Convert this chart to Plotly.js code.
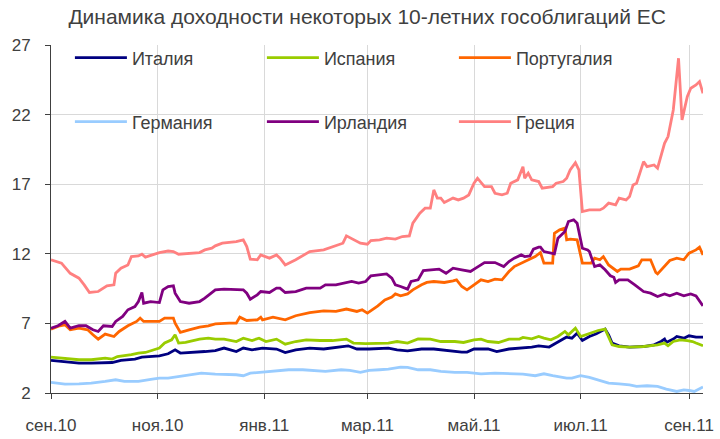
<!DOCTYPE html>
<html><head><meta charset="utf-8">
<script src="https://cdn.plot.ly/plotly-3.0.1.min.js"></script>
<style>html,body{margin:0;padding:0;background:#fff}#chart{width:720px;height:439px}</style>
</head><body><div id="chart"></div>
<script>
const titleText = 'Динамика доходности некоторых 10-летних гособлигаций ЕС';
const tickDates = ['2010-09-01','2010-11-01','2011-01-01','2011-03-01','2011-05-01','2011-07-01','2011-09-01'];
const tickLabels = ['сен.10','ноя.10','янв.11','мар.11','май.11','июл.11','сен.11'];
const yTicks = [2, 7, 12, 17, 22, 27];

const seriesNames = ['Италия','Испания','Португалия','Германия','Ирландия','Греция'];
const seriesColors = ['#000080','#99CC00','#FF6600','#99CCFF','#800080','#FF8080'];

const italyDates = ['2010-09-01','2010-09-09','2010-09-17','2010-09-24','2010-10-02','2010-10-06','2010-10-11','2010-10-19','2010-10-23','2010-10-29','2010-11-02','2010-11-07','2010-11-11','2010-11-14','2010-11-21','2010-11-28','2010-12-04','2010-12-09','2010-12-16','2010-12-20','2010-12-25','2010-12-31','2011-01-08','2011-01-13','2011-01-19','2011-01-27','2011-02-04','2011-02-11','2011-02-18','2011-02-23','2011-03-02','2011-03-13','2011-03-18','2011-03-24','2011-04-01','2011-04-08','2011-04-16','2011-04-24','2011-04-27','2011-05-01','2011-05-09','2011-05-14','2011-05-21','2011-05-29','2011-06-03','2011-06-07','2011-06-10','2011-06-13','2011-06-17','2011-06-23','2011-06-26','2011-06-29','2011-07-02','2011-07-06','2011-07-10','2011-07-15','2011-07-17','2011-07-19','2011-07-23','2011-07-29','2011-08-06','2011-08-12','2011-08-16','2011-08-18','2011-08-19','2011-08-23','2011-08-25','2011-08-29','2011-09-01','2011-09-05','2011-09-09'];
const italyValues = [4.34,4.27,4.15,4.15,4.19,4.19,4.34,4.44,4.58,4.62,4.67,4.82,5.10,4.87,4.91,4.98,5.05,5.23,4.98,5.23,5.10,5.23,5.16,4.91,5.10,5.23,5.16,5.30,5.39,5.16,5.16,5.23,5.10,5.03,5.16,5.16,5.03,4.94,4.94,5.16,5.16,4.98,5.16,5.23,5.30,5.39,5.34,5.30,5.59,6.02,5.94,6.30,5.77,6.06,6.25,6.59,6.18,5.59,5.39,5.30,5.34,5.46,5.70,5.87,5.63,5.87,6.06,5.94,6.11,6.02,6.02];

const spainDates = ['2010-09-01','2010-09-09','2010-09-17','2010-09-24','2010-10-02','2010-10-06','2010-10-09','2010-10-17','2010-10-21','2010-10-25','2010-10-30','2010-11-02','2010-11-05','2010-11-09','2010-11-11','2010-11-13','2010-11-17','2010-11-21','2010-11-25','2010-11-30','2010-12-04','2010-12-09','2010-12-16','2010-12-20','2010-12-25','2010-12-29','2011-01-02','2011-01-08','2011-01-13','2011-01-19','2011-01-25','2011-02-02','2011-02-09','2011-02-17','2011-02-21','2011-02-28','2011-03-08','2011-03-13','2011-03-18','2011-03-24','2011-03-30','2011-04-06','2011-04-12','2011-04-20','2011-04-25','2011-05-01','2011-05-05','2011-05-09','2011-05-15','2011-05-21','2011-05-27','2011-05-29','2011-06-03','2011-06-07','2011-06-10','2011-06-14','2011-06-18','2011-06-22','2011-06-24','2011-06-28','2011-07-01','2011-07-04','2011-07-07','2011-07-11','2011-07-15','2011-07-17','2011-07-19','2011-07-23','2011-07-29','2011-08-06','2011-08-10','2011-08-14','2011-08-18','2011-08-20','2011-08-23','2011-08-27','2011-08-31','2011-09-03','2011-09-05','2011-09-09'];
const spainValues = [4.58,4.51,4.39,4.39,4.51,4.44,4.62,4.75,4.87,4.91,5.10,5.23,5.59,5.82,6.18,5.59,5.63,5.77,5.87,5.94,5.87,5.87,5.70,5.94,5.77,5.94,5.70,5.87,5.51,5.70,5.82,5.77,5.77,5.87,5.59,5.54,5.54,5.59,5.70,5.59,5.89,5.87,5.70,5.70,5.63,5.82,5.87,5.70,5.63,5.87,5.87,5.99,5.89,6.06,5.94,5.82,6.06,6.42,6.18,6.66,6.06,6.18,6.35,6.49,6.59,6.06,5.46,5.34,5.30,5.34,5.39,5.46,5.59,5.39,5.70,5.82,5.77,5.70,5.59,5.39];

const portugalDates = ['2010-09-01','2010-09-06','2010-09-09','2010-09-12','2010-09-17','2010-09-22','2010-09-25','2010-09-28','2010-10-02','2010-10-07','2010-10-10','2010-10-15','2010-10-20','2010-10-22','2010-10-24','2010-10-29','2010-11-02','2010-11-05','2010-11-10','2010-11-11','2010-11-14','2010-11-19','2010-11-25','2010-11-30','2010-12-04','2010-12-12','2010-12-16','2010-12-18','2010-12-22','2010-12-28','2010-12-30','2010-12-31','2011-01-06','2011-01-13','2011-01-19','2011-01-27','2011-02-04','2011-02-11','2011-02-17','2011-02-23','2011-02-26','2011-03-01','2011-03-04','2011-03-07','2011-03-11','2011-03-15','2011-03-17','2011-03-20','2011-03-24','2011-03-27','2011-04-01','2011-04-04','2011-04-08','2011-04-14','2011-04-19','2011-04-21','2011-04-24','2011-04-27','2011-05-01','2011-05-05','2011-05-09','2011-05-13','2011-05-17','2011-05-21','2011-05-24','2011-05-29','2011-06-01','2011-06-05','2011-06-08','2011-06-10','2011-06-15','2011-06-16','2011-06-19','2011-06-22','2011-06-23','2011-06-25','2011-06-29','2011-07-01','2011-07-02','2011-07-07','2011-07-09','2011-07-12','2011-07-14','2011-07-17','2011-07-22','2011-07-24','2011-07-29','2011-08-03','2011-08-05','2011-08-10','2011-08-13','2011-08-14','2011-08-18','2011-08-21','2011-08-25','2011-08-29','2011-09-01','2011-09-05','2011-09-07','2011-09-09'];
const portugalValues = [6.59,6.83,6.90,6.54,6.66,6.54,6.18,5.87,6.23,6.06,6.42,6.83,7.14,7.38,7.14,7.14,7.14,7.38,7.38,7.02,6.35,6.54,6.73,6.83,6.97,7.02,7.02,7.45,7.21,7.26,7.45,7.26,7.45,7.26,7.55,7.78,7.90,7.86,8.03,7.86,7.98,7.74,7.98,8.26,8.69,8.89,9.12,8.98,9.12,9.41,9.77,9.94,10.01,9.94,10.06,10.13,9.65,9.41,9.77,10.13,10.01,10.18,10.13,10.73,11.08,11.37,11.57,11.80,12.09,11.33,11.33,13.48,13.72,13.84,13.00,13.05,13.00,11.80,11.33,11.33,11.69,11.57,11.80,11.20,10.73,10.90,10.90,11.13,11.57,11.57,10.66,10.56,11.13,11.52,11.69,11.57,12.04,12.28,12.48,11.92];

const germanyDates = ['2010-09-01','2010-09-09','2010-09-17','2010-09-24','2010-10-02','2010-10-08','2010-10-13','2010-10-21','2010-10-29','2010-11-02','2010-11-07','2010-11-13','2010-11-21','2010-11-26','2010-12-04','2010-12-09','2010-12-16','2010-12-20','2010-12-24','2010-12-31','2011-01-08','2011-01-15','2011-01-23','2011-01-31','2011-02-05','2011-02-14','2011-02-19','2011-02-25','2011-03-02','2011-03-08','2011-03-13','2011-03-20','2011-03-24','2011-03-30','2011-04-06','2011-04-12','2011-04-20','2011-04-27','2011-05-05','2011-05-13','2011-05-21','2011-05-29','2011-06-05','2011-06-10','2011-06-15','2011-06-23','2011-06-26','2011-07-01','2011-07-06','2011-07-12','2011-07-17','2011-07-23','2011-07-29','2011-08-02','2011-08-08','2011-08-14','2011-08-19','2011-08-25','2011-08-29','2011-09-01','2011-09-04','2011-09-09'];
const germanyValues = [2.76,2.64,2.66,2.71,2.83,2.95,2.83,2.83,3.00,3.07,3.07,3.19,3.31,3.43,3.36,3.36,3.31,3.24,3.43,3.50,3.60,3.67,3.67,3.62,3.55,3.67,3.62,3.48,3.62,3.67,3.72,3.86,3.84,3.67,3.67,3.55,3.48,3.48,3.38,3.43,3.38,3.36,3.24,3.38,3.24,3.07,3.07,3.24,3.12,2.90,2.71,2.66,2.59,2.47,2.52,2.47,2.28,2.11,2.23,2.18,2.11,2.43];

const irelandDates = ['2010-09-01','2010-09-05','2010-09-09','2010-09-12','2010-09-17','2010-09-21','2010-09-25','2010-09-28','2010-10-01','2010-10-06','2010-10-08','2010-10-12','2010-10-15','2010-10-19','2010-10-21','2010-10-23','2010-10-24','2010-10-28','2010-11-02','2010-11-04','2010-11-07','2010-11-10','2010-11-11','2010-11-14','2010-11-19','2010-11-25','2010-11-28','2010-12-02','2010-12-04','2010-12-09','2010-12-16','2010-12-20','2010-12-22','2010-12-24','2010-12-28','2010-12-30','2011-01-04','2011-01-08','2011-01-10','2011-01-13','2011-01-19','2011-01-25','2011-02-02','2011-02-05','2011-02-11','2011-02-17','2011-02-20','2011-02-24','2011-02-28','2011-03-03','2011-03-07','2011-03-12','2011-03-15','2011-03-17','2011-03-20','2011-03-24','2011-03-26','2011-03-30','2011-04-02','2011-04-08','2011-04-11','2011-04-15','2011-04-19','2011-04-24','2011-04-29','2011-05-02','2011-05-07','2011-05-13','2011-05-18','2011-05-21','2011-05-24','2011-05-28','2011-05-30','2011-06-02','2011-06-04','2011-06-07','2011-06-08','2011-06-10','2011-06-16','2011-06-18','2011-06-22','2011-06-24','2011-06-27','2011-06-29','2011-07-02','2011-07-05','2011-07-06','2011-07-09','2011-07-12','2011-07-15','2011-07-18','2011-07-20','2011-07-21','2011-07-23','2011-07-28','2011-08-01','2011-08-06','2011-08-10','2011-08-14','2011-08-18','2011-08-21','2011-08-25','2011-08-29','2011-09-02','2011-09-05','2011-09-09'];
const irelandValues = [6.66,6.83,7.14,6.66,6.83,6.83,6.54,6.42,6.83,6.78,7.14,7.50,7.98,8.21,8.57,9.22,8.45,8.57,8.50,9.41,9.65,9.70,9.17,8.57,8.45,8.57,8.81,9.22,9.41,9.46,9.41,9.41,9.17,8.74,9.05,9.29,9.22,9.53,9.53,9.22,9.29,9.53,9.53,9.77,9.77,9.94,10.01,9.89,10.01,10.42,10.49,10.56,10.25,9.77,9.65,9.46,10.01,10.13,10.80,10.85,10.90,10.60,10.97,10.85,10.73,10.97,11.37,11.37,11.08,11.44,11.69,11.92,11.80,11.85,12.33,12.48,12.48,12.16,12.00,13.12,13.60,14.32,14.44,14.20,12.40,12.28,12.16,11.08,11.20,10.85,10.42,10.32,9.94,10.13,10.13,9.77,9.29,9.17,8.93,9.12,8.98,9.17,8.98,9.12,8.98,8.26];

const greeceDates = ['2010-09-01','2010-09-07','2010-09-12','2010-09-17','2010-09-20','2010-09-23','2010-09-28','2010-10-03','2010-10-07','2010-10-08','2010-10-11','2010-10-15','2010-10-17','2010-10-21','2010-10-23','2010-10-25','2010-10-29','2010-11-02','2010-11-07','2010-11-10','2010-11-13','2010-11-19','2010-11-25','2010-11-28','2010-12-02','2010-12-04','2010-12-08','2010-12-16','2010-12-20','2010-12-22','2010-12-24','2010-12-28','2010-12-30','2011-01-04','2011-01-08','2011-01-10','2011-01-13','2011-01-19','2011-01-27','2011-02-04','2011-02-11','2011-02-15','2011-02-17','2011-02-21','2011-02-25','2011-03-01','2011-03-03','2011-03-08','2011-03-12','2011-03-17','2011-03-21','2011-03-25','2011-03-27','2011-03-31','2011-04-03','2011-04-06','2011-04-08','2011-04-10','2011-04-12','2011-04-14','2011-04-19','2011-04-22','2011-04-25','2011-04-28','2011-05-01','2011-05-03','2011-05-07','2011-05-11','2011-05-13','2011-05-17','2011-05-20','2011-05-22','2011-05-26','2011-05-29','2011-05-30','2011-06-01','2011-06-03','2011-06-07','2011-06-09','2011-06-15','2011-06-17','2011-06-21','2011-06-23','2011-06-25','2011-06-28','2011-06-30','2011-07-02','2011-07-06','2011-07-12','2011-07-14','2011-07-17','2011-07-21','2011-07-23','2011-07-27','2011-07-29','2011-07-31','2011-08-02','2011-08-06','2011-08-08','2011-08-12','2011-08-14','2011-08-18','2011-08-20','2011-08-23','2011-08-26','2011-08-28','2011-08-31','2011-09-02','2011-09-05','2011-09-07','2011-09-09'];
const greeceValues = [11.57,11.33,10.60,10.25,9.77,9.22,9.29,9.70,9.77,10.60,10.97,11.20,11.80,11.85,11.97,11.76,11.92,12.09,12.20,12.16,11.97,12.05,12.09,12.28,12.40,12.57,12.76,12.88,13.00,12.52,11.62,11.57,11.92,11.69,11.92,11.69,11.20,11.57,12.16,12.28,12.57,12.76,13.29,13.00,12.76,12.69,12.95,13.00,13.12,13.05,13.24,13.29,14.20,14.92,15.28,15.28,16.59,16.00,16.00,15.68,16.00,15.87,16.00,16.23,17.07,17.43,16.83,16.83,16.35,16.23,16.35,17.07,17.31,18.26,17.43,17.79,17.31,17.19,16.71,16.83,17.07,17.19,17.43,18.03,18.55,18.03,15.03,15.15,15.15,15.28,15.64,15.51,16.00,15.87,16.11,16.95,17.07,18.62,18.26,18.38,18.15,19.94,20.42,22.33,26.05,21.62,23.29,23.89,24.13,24.37,23.53];

const seriesDates = [italyDates, spainDates, portugalDates, germanyDates, irelandDates, greeceDates];
const seriesValues = [italyValues, spainValues, portugalValues, germanyValues, irelandValues, greeceValues];

const textColor = '#404040';
const fontFamily = '"Liberation Sans", Arial, sans-serif';

const traces = seriesNames.map((name, i) => ({
  type: 'scatter', mode: 'lines', name: name,
  x: seriesDates[i], y: seriesValues[i],
  line: {color: seriesColors[i], width: 2.8},
  legend: i < 3 ? 'legend' : 'legend2',
  hoverinfo: 'skip'
}));

const legendBase = {
  orientation: 'h', xref: 'paper', yref: 'paper', x: 0.029, xanchor: 'left', yanchor: 'middle',
  font: {size: 18, color: textColor, family: fontFamily},
  itemwidth: 52, entrywidth: 125, bgcolor: 'rgba(0,0,0,0)', borderwidth: 0, traceorder: 'normal'
};

const layout = {
  width: 720, height: 439,
  margin: {l: 51, r: 17, t: 45, b: 46},
  paper_bgcolor: '#ffffff', plot_bgcolor: '#ffffff',
  font: {family: fontFamily, color: textColor},
  title: {text: titleText, xref: 'container', x: 0.51, xanchor: 'center', yref: 'container', y: 0.961, yanchor: 'middle',
          font: {size: 21, color: textColor, family: fontFamily}},
  showlegend: true,
  legend: Object.assign({}, legendBase, {y: 0.963}),
  legend2: Object.assign({}, legendBase, {y: 0.779}),
  xaxis: {
    type: 'date', range: ['2010-09-01', '2011-09-09'],
    tickmode: 'array', tickvals: tickDates, ticktext: tickLabels,
    showgrid: true, gridcolor: '#d9d9d9', gridwidth: 1,
    showline: true, linecolor: '#404040', linewidth: 1,
    ticks: 'outside', ticklen: 5, tickcolor: '#404040', tickwidth: 1,
    tickfont: {size: 17, color: textColor}, ticklabelstandoff: 12, zeroline: false, fixedrange: true
  },
  yaxis: {
    range: [2, 27], tickmode: 'array', tickvals: yTicks, ticktext: yTicks.map(String),
    showgrid: true, gridcolor: '#d9d9d9', gridwidth: 1,
    showline: true, linecolor: '#404040', linewidth: 1,
    ticks: 'outside', ticklen: 5, tickcolor: '#404040', tickwidth: 1,
    tickfont: {size: 17, color: textColor}, ticklabelstandoff: 11, zeroline: false, fixedrange: true
  }
};

Plotly.newPlot('chart', traces, layout, {staticPlot: true, displayModeBar: false});
</script>
</body></html>
